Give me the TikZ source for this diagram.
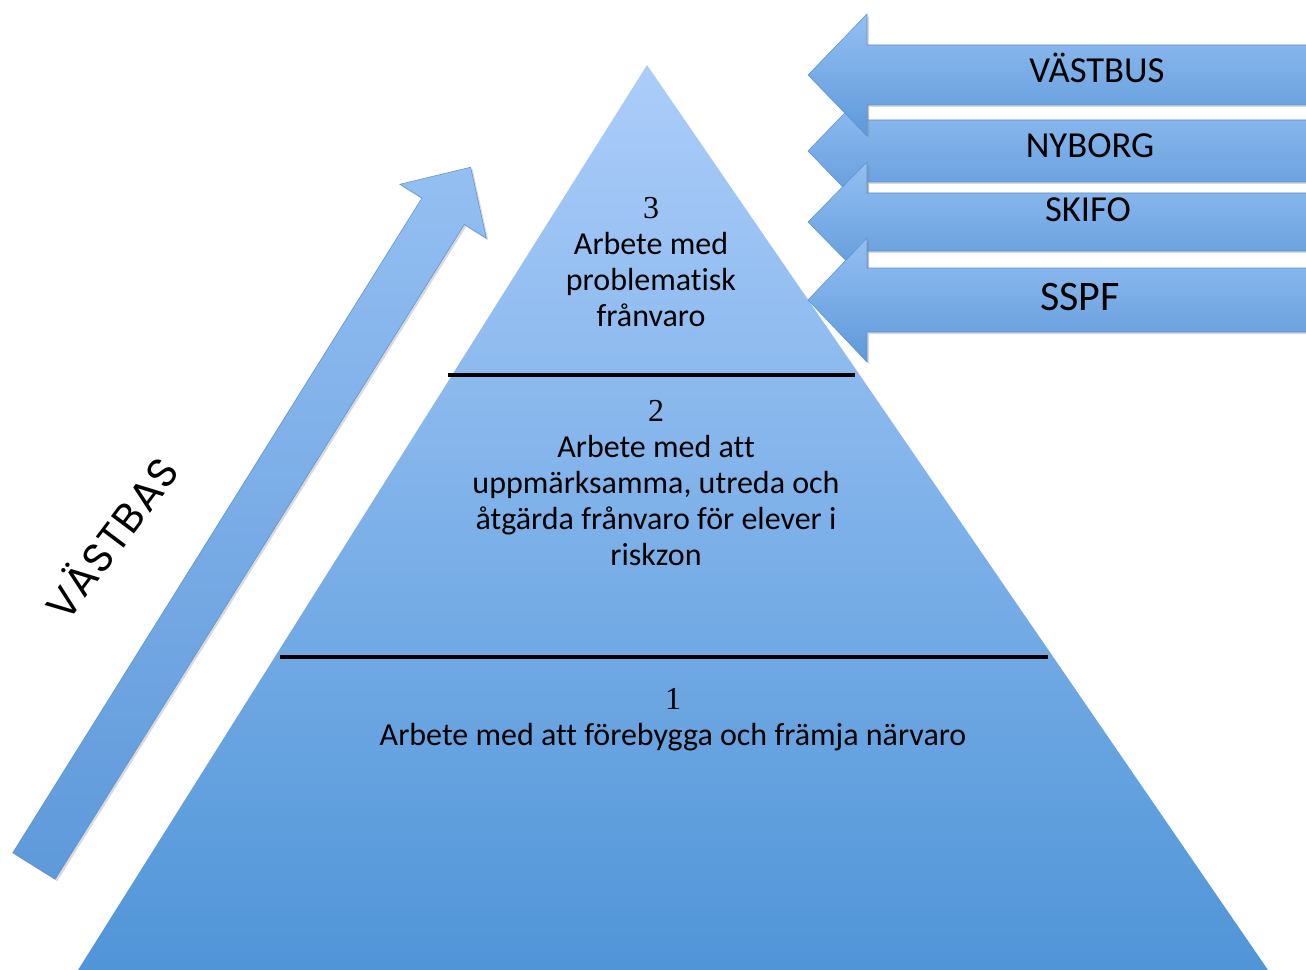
\documentclass[tikz,border=0pt]{standalone}
\usepackage{fontspec}
\setmainfont{Carlito}[Ligatures=NoCommon]
\newfontfamily\numfont{Liberation Serif}
\newfontfamily\geofont{Poppins}[LetterSpace=4]
\usetikzlibrary{shadows}
\definecolor{pyrtop}{RGB}{172,205,250}
\definecolor{pyrbot}{RGB}{80,149,216}
\definecolor{arrtop}{RGB}{148,191,242}
\definecolor{arrbot}{RGB}{94,153,218}
\definecolor{arredge}{RGB}{88,146,212}
\tikzset{
  blockarr/.style={top color=arrtop, bottom color=arrbot, draw=arredge, line width=0.4pt,
    drop shadow={shadow xshift=1.5pt, shadow yshift=-1.5pt, opacity=0.3}},
  tiertext/.style={align=center, font=\fontsize{24}{27}\selectfont},
  arrlabel/.style={font=\fontsize{27.5}{30}\selectfont},
  divider/.style={line width=3pt, black}
}

\begin{document}
\begin{tikzpicture}[x=0.75pt,y=-0.75pt]
\useasboundingbox (0,0) rectangle (1306,970);
\clip (0,0) rectangle (1306,970);
% pyramid
\coordinate (apex) at (647,65);
\coordinate (bl) at (78,970);
\coordinate (br) at (1268,970);
\shade[top color=pyrtop, bottom color=pyrbot] (apex) -- (br) -- (bl) -- cycle;
\coordinate (d1l) at (448,375);
\coordinate (d1r) at (855,375);
\coordinate (d2l) at (280,657);
\coordinate (d2r) at (1048,657);
\draw[divider] (d1l) -- (d1r);
\draw[divider] (d2l) -- (d2r);
\node[tiertext] (tier3) at (651,262) {{\numfont 3}\\Arbete med\\problematisk\\frånvaro};
\node[tiertext] (tier2) at (656,483) {{\numfont 2}\\Arbete med att\\uppmärksamma, utreda och\\åtgärda frånvaro för elever i\\riskzon};
\node[tiertext] (tier1) at (673,720) {{\numfont 1}\\Arbete med att förebygga och främja närvaro};
% arrows from the right (2 first, it lies under 1 and 3)
\foreach \ty/\hh/\sh in {151/61/31, 75/61/30, 222/60/29, 300/62/32}
  \draw[blockarr] (808,\ty) -- (867,{\ty-\hh}) -- (867,{\ty-\sh}) -- (1320,{\ty-\sh})
    -- (1320,{\ty+\sh}) -- (867,{\ty+\sh}) -- (867,{\ty+\hh}) -- cycle;
\node[arrlabel] (vastbus) at (1097,68) {VÄSTBUS};
\node[arrlabel] (nyborg) at (1090,146) {NYBORG};
\node[arrlabel] (skifo) at (1088,210) {SKIFO};
\node[arrlabel, font=\fontsize{31.5}{34}\selectfont] (sspf) at (1080,297) {SSPF};
% rising arrow
\begin{scope}[shift={(34,866)}, rotate=58]
\draw[blockarr] (0,-25) -- (772,-25) -- (772,-51) -- (824,0) -- (772,51) -- (772,25) -- (0,25) -- cycle;
\end{scope}
\node[font=\geofont\fontsize{31}{33}\selectfont, rotate=53] (vastbas) at (110,537) {VÄSTBAS};
\end{tikzpicture}
\end{document}
